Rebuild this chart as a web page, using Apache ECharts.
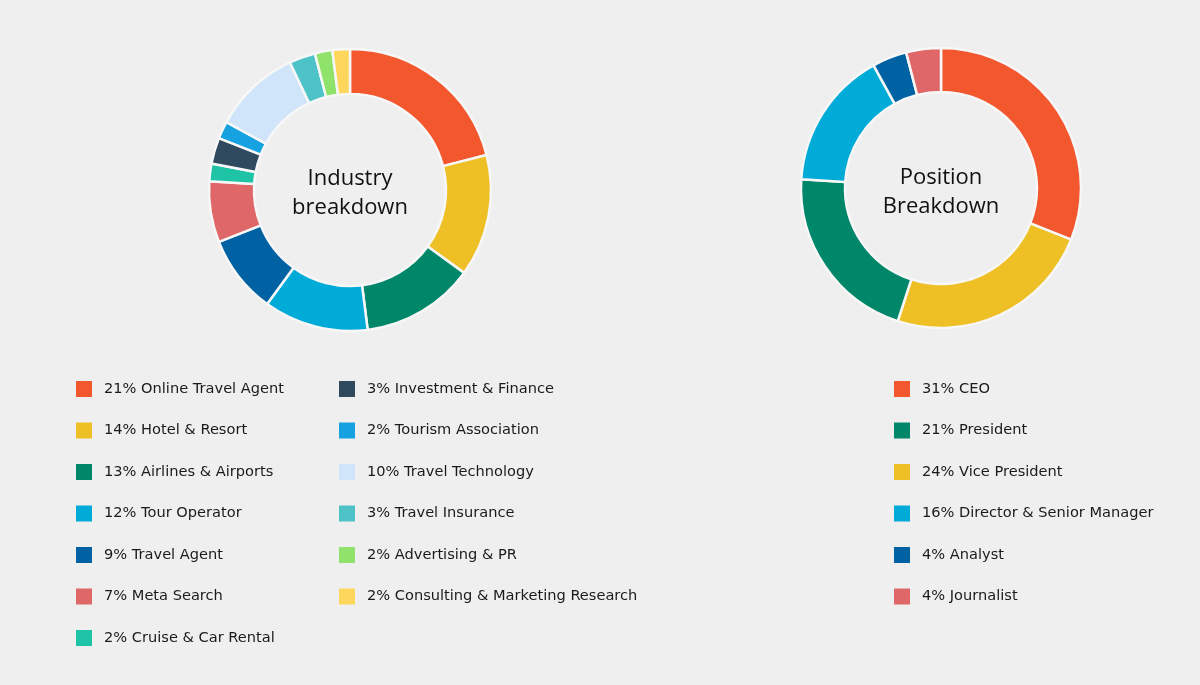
<!DOCTYPE html>
<html>
<head>
<meta charset="utf-8">
<script src="https://cdn.jsdelivr.net/npm/echarts@6/dist/echarts.min.js"></script>
<style>
html,body{margin:0;padding:0;background:#efefef;}
#c{width:1200px;height:685px;}
</style>
</head>
<body>
<div id="c"></div>
<script>
// Industry breakdown (clockwise from top)
var industryNames = ['Online Travel Agent','Hotel & Resort','Airlines & Airports','Tour Operator','Travel Agent','Meta Search','Cruise & Car Rental','Investment & Finance','Tourism Association','Travel Technology','Travel Insurance','Advertising & PR','Consulting & Marketing Research'];
var industryValues = [21,14,13,12,9,7,2,3,2,10,3,2,2];
var industryColors = ['#f2572d','#efc026','#00876a','#00abd8','#0062a3','#e06767','#1fc4a7','#2f4a5e','#16a2e0','#d0e5fa','#4dc3c7','#8fe36a','#ffd65c'];

// Position breakdown (clockwise from top)
var positionNames = ['CEO','Vice President','President','Director & Senior Manager','Analyst','Journalist'];
var positionValues = [31,24,21,16,4,4];
var positionColors = ['#f2572d','#efc026','#00876a','#00abd8','#0062a3','#e06767'];
var positionLegendOrder = ['CEO','President','Vice President','Director & Senior Manager','Analyst','Journalist'];

var valueOf = {};
industryNames.forEach(function(n,i){ valueOf[n] = industryValues[i]; });
positionNames.forEach(function(n,i){ valueOf[n] = positionValues[i]; });

function mkData(names, values, colors){
  return names.map(function(n,i){ return {name:n, value:values[i], itemStyle:{color:colors[i]}}; });
}

var legendText = {fontFamily:'DejaVu Sans', fontSize:14.6, color:'#1a1a1a', padding:[0,0,0,7]};
function mkLegend(data, left){
  return {
    data: data, orient:'vertical', left:left, top:381, padding:0,
    itemWidth:16, itemHeight:16, itemGap:25.5, icon:'rect', selectedMode:false,
    itemStyle:{borderWidth:0},
    textStyle: legendText,
    formatter: function(n){ return valueOf[n] + '% ' + n; }
  };
}

var chart = echarts.init(document.getElementById('c'));
chart.setOption({
  backgroundColor:'#efefef',
  animation:false,
  legend:[
    mkLegend(industryNames.slice(0,7), 76),
    mkLegend(industryNames.slice(7), 339),
    mkLegend(positionLegendOrder, 894)
  ],
  graphic:[
    {type:'text', x:350, y:193, style:{text:'Industry\nbreakdown', fill:'#111', font:'22px "Open Sans"', lineHeight:29, align:'center', verticalAlign:'middle'}},
    {type:'text', x:941, y:192, style:{text:'Position\nBreakdown', fill:'#111', font:'22px "Open Sans"', lineHeight:29, align:'center', verticalAlign:'middle'}}
  ],
  series:[
    {type:'pie', center:[350,190], radius:[96,141], startAngle:90, clockwise:true, label:{show:false}, labelLine:{show:false},
     silent:true, itemStyle:{borderColor:'#f7f7f7', borderWidth:2.5}, data: mkData(industryNames, industryValues, industryColors)},
    {type:'pie', center:[941,188], radius:[96,140], startAngle:90, clockwise:true, label:{show:false}, labelLine:{show:false},
     silent:true, itemStyle:{borderColor:'#f7f7f7', borderWidth:2.5}, data: mkData(positionNames, positionValues, positionColors)}
  ]
});
</script>
</body>
</html>
